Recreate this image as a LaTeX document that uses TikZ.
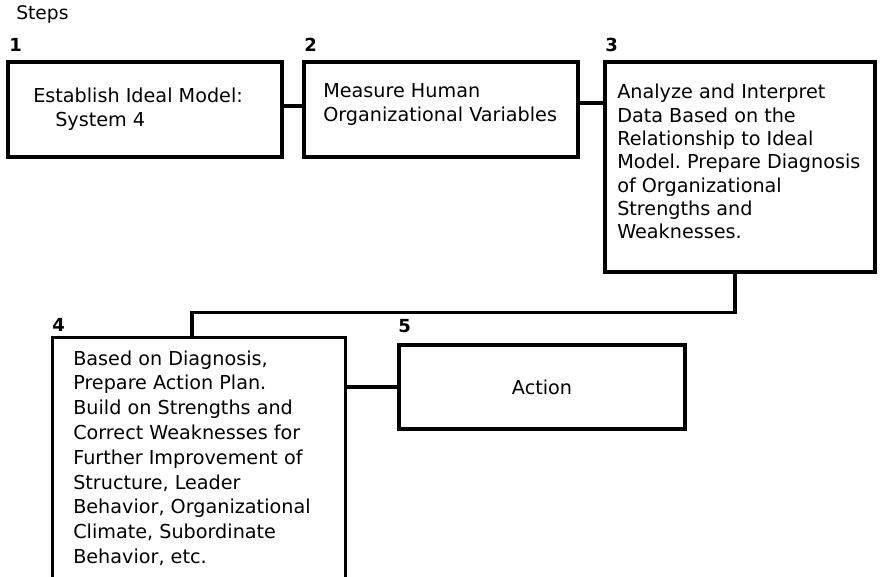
\documentclass[tikz,border=0pt]{standalone}
\usepackage{fontspec}
\setmainfont{DejaVu Sans}
\frenchspacing
\begin{document}
\begin{tikzpicture}[x=0.75pt,y=-0.75pt,
  box/.style={draw, line width=2.5pt, inner sep=0pt},
  lbl/.style={inner sep=0pt, anchor=base west, font=\fontsize{14}{16}\selectfont},
  num/.style={lbl, font=\fontsize{13.5}{16}\selectfont\bfseries},
  txt/.style={inner sep=0pt, anchor=base west, font=\fontsize{14.4}{18}\selectfont},
  link/.style={line width=2.5pt}]
\useasboundingbox (0,0) rectangle (880,577);
% labels
\node[lbl] (steps) at (16,20) {Steps};
\node[num] (n1) at (9,52) {1};
\node[num] (n2) at (304,52) {2};
\node[num] (n3) at (605,52) {3};
\node[num] (n4) at (52,331) {4};
\node[num] (n5) at (398,332) {5};
% boxes
\node[box, minimum width=205.5pt, minimum height=71.25pt] (b1) at (145,109.5) {};
\node[box, minimum width=205.5pt, minimum height=71.25pt] (b2) at (441,109.5) {};
\node[box, minimum width=202.5pt, minimum height=157.5pt] (b3) at (740,167) {};
\node[inner sep=0pt, minimum width=219pt, minimum height=179.25pt] (b4) at (199,457.5) {};
\draw[link] (b4.south west) -- (b4.north west) -- (b4.north east) -- (b4.south east);
\node[box, minimum width=214.5pt, minimum height=63pt] (b5) at (542,387) {};
% texts
\node[txt] (t1) at (33,103) {\parbox[t]{220pt}{Establish Ideal Model:\\\hspace*{16.5pt}System 4}};
\node[txt] (t2) at (323,98) {\parbox[t]{220pt}{Measure Human\\Organizational Variables}};
\node[txt, font=\fontsize{14.4}{17.5}\selectfont] (t3) at (617,99) {\parbox[t]{220pt}{Analyze and Interpret\\Data Based on the\\Relationship to Ideal\\Model. Prepare Diagnosis\\of Organizational\\Strengths and\\Weaknesses.}};
\node[txt, font=\fontsize{14.4}{18.6}\selectfont] (t4) at (73,365) {\parbox[t]{220pt}{Based on Diagnosis,\\Prepare Action Plan.\\Build on Strengths and\\Correct Weaknesses for\\Further Improvement of\\Structure, Leader\\Behavior, Organizational\\Climate, Subordinate\\Behavior, etc.}};
\node[inner sep=0pt, font=\fontsize{14.4}{18}\selectfont] (t5) at (b5) {Action};
% connectors
\draw[link] ([yshift=2.6pt]b1.east) -- ([yshift=2.6pt]b2.west);
\draw[link] ([yshift=4.9pt]b2.east) -- ([yshift=4.9pt]b2.east -| b3.west);
\draw[link] ([xshift=-3.75pt]b3.south) -- ++(0,39) -| ([xshift=-5.25pt]b4.north);
\draw[link] (b4.north east |- b5.west) -- (b5.west);
\end{tikzpicture}
\end{document}
